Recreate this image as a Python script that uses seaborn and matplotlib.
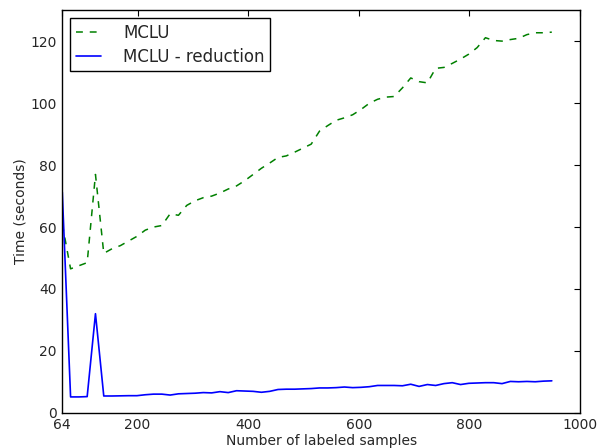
import matplotlib
matplotlib.use("Agg")
import matplotlib.pyplot as plt
import seaborn as sns
import pandas as pd

samples = [64, 79, 94, 109, 124, 139, 154, 169, 184, 199,
           214, 229, 244, 259, 274, 289, 304, 319, 334, 349,
           364, 379, 394, 409, 424, 439, 454, 469, 484, 499,
           514, 529, 544, 559, 574, 589, 604, 619, 634, 649,
           664, 679, 694, 709, 724, 739, 754, 769, 784, 799,
           814, 829, 844, 859, 874, 889, 904, 919, 934, 949]

mclu = [61.0, 46.5, 47.5, 48.5, 77.0, 51.5, 53.0, 54.0, 55.5, 57.0,
        59.0, 60.0, 60.5, 64.3, 63.8, 67.0, 68.5, 69.5, 70.0, 71.0,
        72.3, 73.3, 75.0, 77.0, 79.0, 80.7, 82.5, 83.0, 84.2, 85.5,
        86.8, 91.0, 92.8, 94.5, 95.3, 96.3, 98.0, 100.0, 101.3, 102.0,
        102.2, 105.0, 108.2, 107.0, 106.6, 111.3, 111.6, 112.9, 114.3, 115.9,
        118.0, 121.2, 120.3, 120.1, 120.6, 121.0, 122.2, 122.8, 122.8, 123.0]

mclu_red = [71.3, 5.1, 5.1, 5.2, 32.0, 5.4, 5.4, 5.45, 5.5, 5.5,
            5.8, 6.0, 6.0, 5.7, 6.1, 6.2, 6.3, 6.5, 6.4, 6.8,
            6.5, 7.1, 7.0, 6.9, 6.6, 6.9, 7.5, 7.6, 7.6, 7.7,
            7.8, 8.0, 8.0, 8.1, 8.3, 8.1, 8.2, 8.4, 8.8, 8.8,
            8.8, 8.7, 9.2, 8.5, 9.1, 8.8, 9.4, 9.7, 9.1, 9.5,
            9.6, 9.7, 9.7, 9.4, 10.1, 10.0, 10.1, 10.0, 10.2, 10.3]

series_names = ["MCLU", "MCLU - reduction"]
x_ticks = [64, 200, 400, 600, 800, 1000]
y_ticks = [0, 20, 40, 60, 80, 100, 120]

sns.set_style("white")
plt.rcParams['font.family'] = ['DejaVu Sans']
plt.rcParams['font.size'] = 10

df = pd.DataFrame({
    "samples": samples * 2,
    "time": mclu + mclu_red,
    "method": [series_names[0]] * len(samples) + [series_names[1]] * len(samples),
})

fig = plt.figure(figsize=(6.0, 4.48), dpi=100)
ax = fig.add_axes([0.1038, 0.0788, 0.9667 - 0.1038, 0.9766 - 0.0788])

sns.lineplot(data=df[df.method == series_names[0]], x="samples", y="time",
             ax=ax, color=(0, 0.5, 0), linewidth=1.1, label=series_names[0],
             dashes=False)
ax.lines[-1].set_dashes([4.5, 4.5])
sns.lineplot(data=df[df.method == series_names[1]], x="samples", y="time",
             ax=ax, color=(0, 0, 1), linewidth=1.2, label=series_names[1])

ax.set_xlim(64, 1000)
ax.set_ylim(0, 130)
ax.set_xticks(x_ticks)
ax.set_yticks(y_ticks)
ax.set_xlabel("Number of labeled samples", fontsize=10, labelpad=1)
ax.set_ylabel("Time (seconds)", fontsize=10, labelpad=2)
ax.tick_params(direction="in", length=4, width=0.8, top=True, right=True,
               labelsize=10, pad=4, color="black")
for s in ax.spines.values():
    s.set_color("black")
    s.set_linewidth(1.0)

leg = ax.legend(loc="upper left", fontsize=12, frameon=True, fancybox=False,
                edgecolor="black", framealpha=1, handlelength=1.5,
                handletextpad=1.35, borderaxespad=0.45, labelspacing=0.35,
                borderpad=0.35)
leg.get_frame().set_linewidth(1.0)

fig.savefig("out.png", dpi=100)
